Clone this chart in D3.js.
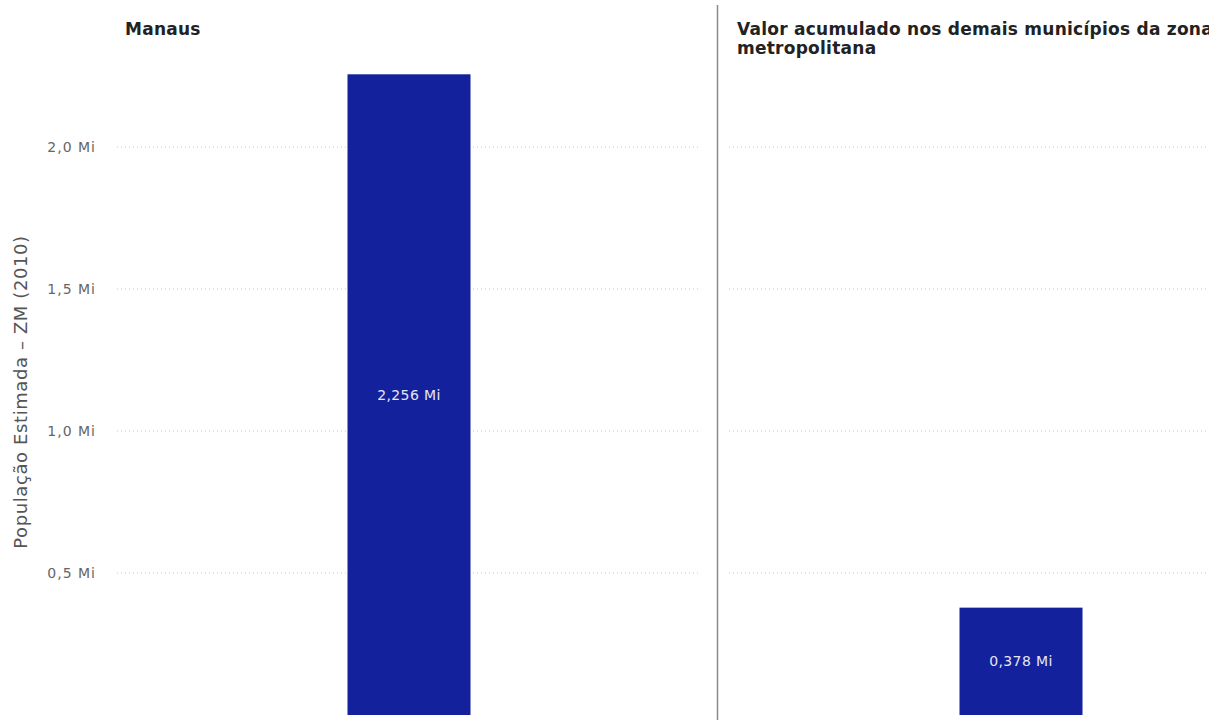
<!DOCTYPE html>
<html>
<head>
<meta charset="utf-8">
<script src="https://cdn.jsdelivr.net/npm/d3@7"></script>
<style>
  html, body { margin: 0; padding: 0; background: #fff; }
  svg { display: block; }
</style>
</head>
<body>
<svg id="chart" width="1209" height="720"></svg>
<script>
// Panels (one category each) and estimated population, in millions
const panelTitles = [
  ["Manaus"],
  ["Valor acumulado nos demais municípios da zona", "metropolitana"]
];
const categories = ["Manaus", "Demais municípios"];
const populationMi = [2.256, 0.378];
const tickValues = [0.5, 1.0, 1.5, 2.0];
const axisTitle = "População Estimada – ZM (2010)";

const fmt = v => d3.format(".1f")(v).replace(".", ",") + " Mi";
const fmtBar = v => d3.format(".3f")(v).replace(".", ",") + " Mi";

const svg = d3.select("#chart");
const W = 1209, H = 720;

const y = d3.scaleLinear().domain([0, 2.5]).range([715, 715 - 2.5 * 284]);

// Horizontal extents of each panel's plot area
const panelRanges = [[117, 701], [729, 1313]];
const barColor = "#14219c";
const font = "'DejaVu Sans', sans-serif";

// Y-axis tick labels (left panel only)
const yAxis = d3.axisLeft(y).tickValues(tickValues).tickFormat(fmt).tickSize(0).tickPadding(0);
const gAxis = svg.append("g").attr("transform", "translate(96,0)").call(yAxis);
gAxis.select(".domain").remove();
gAxis.selectAll("text")
  .attr("fill", "#666")
  .style("font-family", font)
  .style("font-size", "14px")
  .style("letter-spacing", "1px");

// Axis title
svg.append("text")
  .attr("transform", `translate(27,${392}) rotate(-90)`)
  .attr("text-anchor", "middle")
  .attr("fill", "#555")
  .style("font-family", font)
  .style("font-size", "18px")
  .style("letter-spacing", "0.6px")
  .text(axisTitle);

categories.forEach((cat, i) => {
  const [x0, x1] = panelRanges[i];
  const x = d3.scaleBand().domain([cat]).range([x0, x1]).paddingInner(0).paddingOuter(1.874);
  const g = svg.append("g");

  // Dotted gridlines
  g.selectAll("line.grid")
    .data(tickValues)
    .join("line")
    .attr("class", "grid")
    .attr("x1", x0).attr("x2", Math.min(x1, W))
    .attr("y1", d => y(d)).attr("y2", d => y(d))
    .attr("stroke", "#c8c8c8")
    .attr("stroke-width", 1)
    .attr("stroke-dasharray", "1,3");

  // Bar
  g.append("rect")
    .attr("x", x(cat))
    .attr("width", x.bandwidth())
    .attr("y", y(populationMi[i]))
    .attr("height", y(0) - y(populationMi[i]))
    .attr("fill", barColor);

  // Value label inside bar
  g.append("text")
    .attr("x", x(cat) + x.bandwidth() / 2)
    .attr("y", (y(populationMi[i]) + y(0)) / 2)
    .attr("dy", "0.35em")
    .attr("text-anchor", "middle")
    .attr("fill", "#e4e6f2")
    .style("font-family", font)
    .style("font-size", "14px")
    .style("letter-spacing", "0.4px")
    .text(fmtBar(populationMi[i]));

  // Panel title
  const t = g.append("text")
    .attr("x", x0 + 8)
    .attr("y", 35)
    .attr("fill", "#222")
    .style("font-family", font)
    .style("font-size", "17px")
    .style("font-weight", "bold")
    .style("letter-spacing", "0.25px");
  panelTitles[i].forEach((line, k) => {
    t.append("tspan").attr("x", x0 + 8).attr("dy", k === 0 ? 0 : "1.1em").text(line);
  });
});

// Separator between panels
svg.append("line")
  .attr("x1", 717.5).attr("x2", 717.5)
  .attr("y1", 5).attr("y2", H)
  .attr("stroke", "#8a8a8a")
  .attr("stroke-width", 1.5);
</script>
</body>
</html>
